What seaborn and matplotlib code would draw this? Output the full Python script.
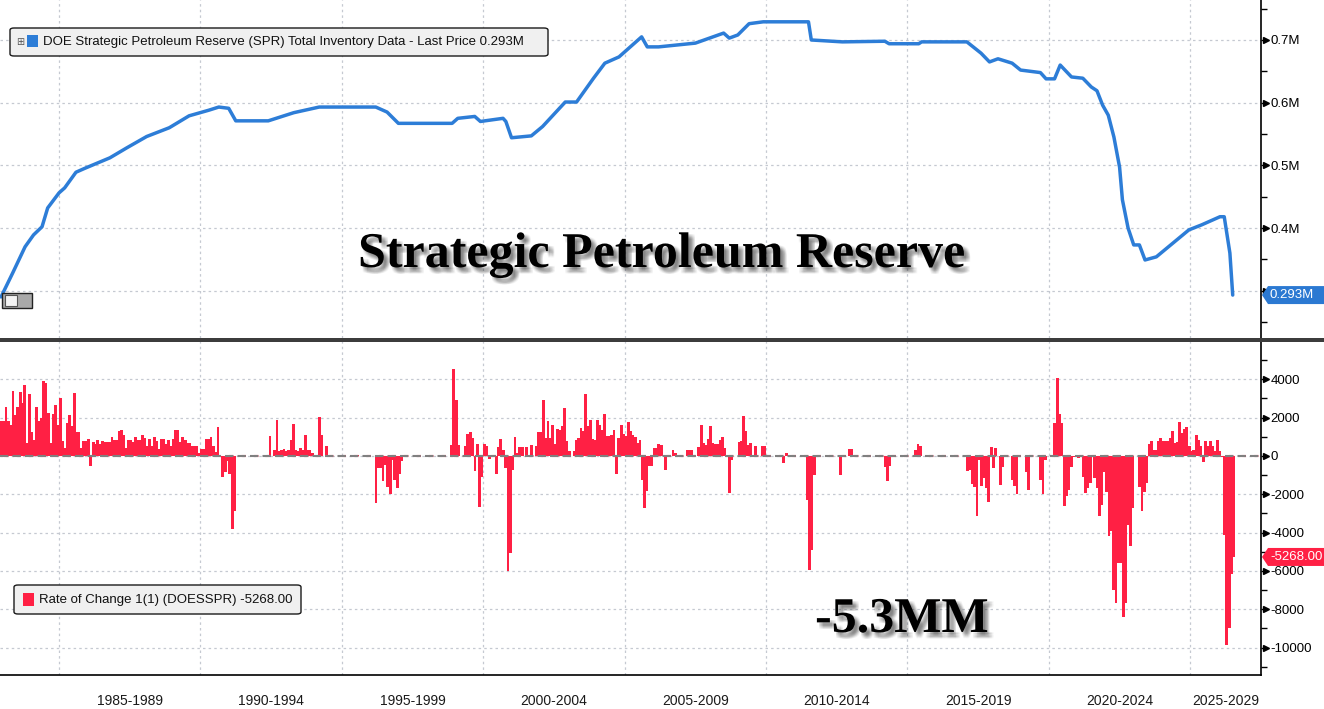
import numpy as np
import pandas as pd
import seaborn as sns
import matplotlib.pyplot as plt
from matplotlib import patheffects
from matplotlib.patches import FancyBboxPatch, Rectangle, Polygon

# SPR total inventory (terminal units, shown as "M")
inv_years = [1982.95, 1983.36, 1983.8, 1984.1, 1984.4, 1984.6, 1985.0, 1985.2, 1985.6, 1985.9,
             1986.8, 1987.4, 1988.1, 1988.9, 1989.6, 1990.3, 1990.65, 1991.0, 1991.25, 1992.4,
             1993.3, 1994.2, 1996.2, 1996.6, 1997.0, 1998.9, 1999.1, 1999.7, 1999.9, 2000.7,
             2000.8, 2001.0, 2001.7, 2002.1, 2002.9, 2003.3, 2003.9, 2004.3, 2004.8, 2005.2,
             2005.6, 2005.8, 2006.2, 2007.5, 2008.5, 2008.7, 2009.0, 2009.4, 2009.9, 2011.5,
             2011.6, 2012.7, 2014.2, 2014.35, 2015.4, 2015.5, 2017.1, 2017.6, 2017.9, 2018.2,
             2018.7, 2019.0, 2019.7, 2019.9, 2020.2, 2020.4, 2020.8, 2021.2, 2021.5, 2021.7,
             2021.9, 2022.1, 2022.3, 2022.5, 2022.6, 2022.8, 2023.0, 2023.2, 2023.4, 2023.8,
             2024.95, 2025.4, 2026.05, 2026.2, 2026.4, 2026.5]
inv_values = [0.290, 0.328, 0.370, 0.389, 0.402, 0.432, 0.456, 0.464, 0.489, 0.495,
              0.512, 0.528, 0.546, 0.560, 0.579, 0.588, 0.593, 0.591, 0.571, 0.571,
              0.584, 0.593, 0.593, 0.585, 0.567, 0.567, 0.575, 0.578, 0.570, 0.575,
              0.570, 0.544, 0.547, 0.562, 0.601, 0.601, 0.639, 0.663, 0.673, 0.689,
              0.705, 0.689, 0.689, 0.695, 0.711, 0.703, 0.708, 0.726, 0.729, 0.729,
              0.700, 0.697, 0.698, 0.694, 0.694, 0.697, 0.697, 0.679, 0.665, 0.670,
              0.663, 0.652, 0.648, 0.638, 0.638, 0.660, 0.641, 0.639, 0.625, 0.619,
              0.596, 0.580, 0.545, 0.497, 0.445, 0.400, 0.373, 0.373, 0.349, 0.354,
              0.397, 0.405, 0.418, 0.418, 0.360, 0.293]

# weekly change (thousand barrels), one bar per month from Dec 1982
chg_1982_1984 = [1844, 1844, 2575, 1844, 1636, 3410, 2158, 2575, 3358, 2767,
                 3724, 680, 3254, 1235, 852, 2575, 1844, 1984, 3932, 3828,
                 2245, 680, 2210, 2680, 1636]
chg_1985_1989 = [3028, 800, 418, 1723, 2158, 1583, 3306, 1270, 1270, 418,
                 800, 800, 887, -505, 730, 626, 852, 644, 800, 730,
                 730, 730, 990, 852, 852, 1322, 1375, 1096, 435, 852,
                 852, 730, 990, 852, 852, 1096, 940, 540, 887, 540,
                 990, 800, 365, 887, 887, 644, 852, 540, 887, 1340,
                 1375, 713, 990, 852, 680, 680, 540, 540, 540, 160]
chg_1990_1994 = [365, 365, 887, 900, 990, 540, 200, 1531, 0, -1114,
                 -853, -278, -940, -3793, -2888, 0, 0, 0, 0, 0,
                 0, 0, 0, 0, 0, 0, 0, 0, 0, 1061,
                 0, 330, 1897, 244, 296, 383, 278, 296, 852, 1688,
                 330, 244, 418, 296, 1114, 296, 330, 160, 70, 70,
                 2018, 1114, 0, 540, 0, 0, 0, 0, 0, 0]
chg_1995_1999 = [0, 0, 0, 0, 0, 70, 70, 0, 0, 0,
                 0, 0, 0, 0, -2453, -626, -626, -1322, -452, -1618,
                 -1983, -191, -1270, -1688, -940, -278, 0, 0, 0, 0,
                 0, 0, 0, 0, 0, 0, 70, 0, 0, 0,
                 0, 0, 0, 0, 0, 0, 592, 4559, 2941, 592,
                 0, 0, 540, 1166, 1235, 940, -800, 644, -2680, -1096]
chg_2000_2004 = [644, 540, -157, 70, 0, -957, 470, 905, 296, -644,
                 -6020, -5063, -713, 990, 160, 470, 470, 0, 470, 0,
                 592, 0, 540, 1235, 1235, 2906, 940, 1844, 940, 1636,
                 644, 1409, 1340, 1583, 2506, 765, 244, 0, 244, 852,
                 940, 1462, 1288, 3254, 1583, 1897, 887, 852, 1897, 1636,
                 1375, 2210, 1027, 1061, 1114, 1340, -922, 940, 1636, 1166]
chg_2005_2009 = [1061, 1757, 1288, 1114, 990, 680, 852, -1270, -2714, -1844,
                 -505, -505, 418, 418, 644, 592, 0, -713, 0, 0,
                 296, 160, 0, 0, 0, 0, 330, 330, 330, 0,
                 0, 470, 1636, 680, 592, 905, 1549, 680, 626, 626,
                 852, 990, 418, 0, -1931, -226, 0, 0, 748, 800,
                 2105, 1322, 592, 680, 0, 540, 0, 0, 540, 540]
chg_2010_2014 = [0, 0, 0, 0, 0, 0, 0, -365, 160, 0,
                 0, 0, 0, 0, 0, 0, 0, -2279, -5933, -4889,
                 -974, 0, 0, 0, 0, 0, 0, 0, 0, 0,
                 0, -974, 0, 0, 0, 365, 365, 0, 0, 0,
                 0, 0, 0, 0, 0, 0, 0, 0, 0, 0,
                 -574, -1322, -505, 0, 0, 0, 0, 0, 0, 0]
chg_2015_2019 = [0, 0, 0, 330, 644, 540, 0, 0, 0, 0,
                 0, 0, 0, 0, 0, 0, 0, 0, 0, 0,
                 0, 0, 0, 0, 0, -800, -713, -1444, -1635, -3149,
                 -226, -1583, -1148, -1670, -2418, 470, -626, 418, 0, -1496,
                 -574, 0, 0, 0, -1270, -1549, -1983, 0, 0, 0,
                 -853, -1757, 0, 0, 0, 0, -1247, -1974, -208, 0]
chg_2020_2024 = [0, 0, 1732, 4053, 2217, 1732, -2633, -2113, -1767, -554,
                 -69, 0, -121, 0, -1074, -1905, -1680, -1386, 0, -1160,
                 -1680, -3152, -2546, -814, -1853, -4191, -3931, -6997, -7655, -5577,
                 -5577, -8383, -7655, -3585, -4711, -2719, 0, 0, -1593, -2892,
                 -1853, -1420, 624, 797, 312, 312, 797, 918, 797, 797,
                 797, 918, 1299, 693, 745, 1767, 1212, 1386, 1490, 520]
chg_2025_2026 = [277, 312, 1091, 831, 520, -294, 779, 520, 797, 520,
                 277, 831, 277, -69, -4139, -9872, -8955, -6183, -5268]

period_starts = [1985, 1990, 1995, 2000, 2005, 2010, 2015, 2020, 2025]
period_labels = ["1985-1989", "1990-1994", "1995-1999", "2000-2004", "2005-2009",
                 "2010-2014", "2015-2019", "2020-2024", "2025-2029"]

top_ticks = [0.3, 0.4, 0.5, 0.6, 0.7]
top_tick_labels = ["", "0.4M", "0.5M", "0.6M", "0.7M"]
bot_ticks = [-10000, -8000, -6000, -4000, -2000, 0, 2000, 4000]

BLUE = "#2d7dd7"
RED = "#ff2044"

sns.set_style("white")
plt.rcParams["font.family"] = ["Liberation Sans", "DejaVu Sans"]

W, H = 1324, 709
fig = plt.figure(figsize=(W / 100, H / 100), dpi=100)
X0, X1 = 1982.914, 2027.50


def fx(p):
    return p / W


def fy(p):
    return 1 - p / H


ax_top = fig.add_axes([0, fy(338), fx(1261), 338 / H])
ax_bot = fig.add_axes([0, fy(675), fx(1261), (675 - 341) / H])

# ---- top: inventory line
sns.lineplot(x=inv_years, y=inv_values, ax=ax_top, color=BLUE, linewidth=2.5, sort=False)
ax_top.set_xlim(X0, X1)
ax_top.set_ylim(0.2245, 0.7638)

# ---- bottom: weekly change bars
chg = np.concatenate([chg_1982_1984, chg_1985_1989, chg_1990_1994, chg_1995_1999,
                      chg_2000_2004, chg_2005_2009, chg_2010_2014, chg_2015_2019,
                      chg_2020_2024, chg_2025_2026])
months = pd.date_range("1982-12-01", periods=len(chg), freq="MS")
bar_x = months.year + (months.month - 0.5) / 12
ax_bot.bar(bar_x, chg, width=1.2 / 12, color=RED, linewidth=0, antialiased=False, zorder=2)
# zero line: grey dashes with thin red ticks between them
ax_bot.axhline(0, color=RED, lw=1.5, ls=(4, (2, 4)), zorder=3)
ax_bot.axhline(0, color="#808080", lw=1.5, ls=(0, (4, 2)), zorder=3)
ax_bot.set_xlim(X0, X1)
ax_bot.set_ylim(-11427, 6000)

grid_kw = dict(color="#c5c9d1", ls=(0, (2, 2.5)), lw=0.9)
for ax in (ax_top, ax_bot):
    ax.set_xlabel("")
    ax.set_ylabel("")
    ax.set_xticks(period_starts)
    ax.set_xticks(range(1983, 2028), minor=True)
    ax.grid(True, which="major", **grid_kw)
    ax.set_axisbelow(True)
    ax.yaxis.tick_right()
    for s in ("left", "top", "bottom"):
        ax.spines[s].set_visible(False)
    ax.spines["right"].set_color("black")
    ax.spines["right"].set_linewidth(1.2)
    ax.tick_params(axis="y", which="major", direction="out", length=3, width=1,
                   colors="black", labelsize=9.5, pad=4)
    ax.tick_params(axis="y", which="minor", direction="out", length=4, width=1, colors="black")

ax_top.set_yticks(top_ticks, top_tick_labels)
ax_top.set_yticks(np.arange(0.25, 0.8, 0.1), minor=True)
ax_top.tick_params(axis="x", which="both", length=0, labelbottom=False)

ax_bot.set_yticks(bot_ticks, [str(v) for v in bot_ticks])
ax_bot.set_yticks(np.arange(-11000, 6000, 2000), minor=True)
ax_bot.spines["bottom"].set_visible(True)
ax_bot.spines["bottom"].set_color("black")
ax_bot.spines["bottom"].set_linewidth(1.2)
ax_bot.tick_params(axis="x", which="major", direction="out", length=25, width=1.3,
                   color="#6e6e6e", labelbottom=False)
ax_bot.tick_params(axis="x", which="minor", direction="out", length=3, width=1, color="black")
for start, lab in zip(period_starts, period_labels):
    mid = (start + min(start + 5, X1)) / 2
    ax_bot.text(mid, -(701 - 675) / 334, lab, transform=ax_bot.get_xaxis_transform(),
                ha="center", va="center", fontsize=10, color="#1a1a1a")

# triangle markers on major y ticks
for ax, ticks in ((ax_top, top_ticks), (ax_bot, bot_ticks)):
    ax.plot([1.004] * len(ticks), ticks, ls="none", marker=">", ms=4.5, color="black",
            transform=ax.get_yaxis_transform(), clip_on=False, zorder=5)

# separator between panels
fig.add_artist(Rectangle((0, fy(341.5)), 1, 4 / H, transform=fig.transFigure,
                         facecolor="#3c3c3c", edgecolor="none"))


# last value tags
def tag(ax, val, text, color):
    fig.canvas.draw()
    yc = ax.transData.transform((X0, val))[1]
    h = 9
    pts = [(1262, yc), (1268, yc + h), (W, yc + h), (W, yc - h), (1268, yc - h)]
    fig.add_artist(Polygon([(fx(x), y / H) for x, y in pts], closed=True,
                           transform=fig.transFigure, facecolor=color, edgecolor="none"))
    fig.text(fx(1270), yc / H, text, color="white", fontsize=9.5, ha="left", va="center")


tag(ax_top, inv_values[-1], "0.293M", "#2b79d2")
tag(ax_bot, chg[-1], f"{chg[-1]:.2f}", RED)

# legend boxes
fig.add_artist(FancyBboxPatch((fx(10), fy(56)), fx(538), 28 / H, transform=fig.transFigure,
                              boxstyle="round,pad=0,rounding_size=0.003",
                              facecolor="#f0f0f0", edgecolor="#1a1a1a", lw=1))
fig.text(fx(20), fy(42), "\u229e", fontsize=7, color="#555555", ha="center", va="center",
         family="DejaVu Sans")
fig.add_artist(Rectangle((fx(27), fy(47)), fx(11), 12 / H, transform=fig.transFigure,
                         facecolor=BLUE, edgecolor="none"))
fig.text(fx(43), fy(42), "DOE Strategic Petroleum Reserve (SPR) Total Inventory Data - Last Price 0.293M",
         fontsize=9.5, color="#111111", ha="left", va="center")

fig.add_artist(FancyBboxPatch((fx(14), fy(614)), fx(287), 29 / H, transform=fig.transFigure,
                              boxstyle="round,pad=0,rounding_size=0.003",
                              facecolor="#f0f0f0", edgecolor="#1a1a1a", lw=1))
fig.add_artist(Rectangle((fx(23), fy(606)), fx(11), 13 / H, transform=fig.transFigure,
                         facecolor=RED, edgecolor="none"))
fig.text(fx(39), fy(600), f"Rate of Change 1(1) (DOESSPR) {chg[-1]:.2f}",
         fontsize=9.5, color="#111111", ha="left", va="center")

# small chart icon bottom-left of top panel
fig.add_artist(Rectangle((fx(2), fy(308)), fx(30), 15 / H, transform=fig.transFigure,
                         facecolor="#a9a9a9", edgecolor="#222222", lw=1))
fig.add_artist(Rectangle((fx(5), fy(306)), fx(12), 11 / H, transform=fig.transFigure,
                         facecolor="#f4f4f4", edgecolor="#555555", lw=0.8))

# big annotations with soft shadow
shadow = [patheffects.SimplePatchShadow(offset=(dx, -dy), shadow_rgbFace="#333333", alpha=0.05)
          for dx in (1.5, 2.5, 3.5, 4.5) for dy in (1.5, 2.5, 3.5, 4.5)]
shadow.append(patheffects.Normal())
fig.text(fx(662), fy(267), "Strategic Petroleum Reserve", ha="center", va="baseline",
         family="Liberation Serif", weight="bold", fontsize=36, color="black",
         path_effects=shadow)
fig.text(fx(902), fy(632), "-5.3MM", ha="center", va="baseline",
         family="Liberation Serif", weight="bold", fontsize=36, color="black",
         path_effects=shadow)

fig.savefig("out.png", dpi=100)
